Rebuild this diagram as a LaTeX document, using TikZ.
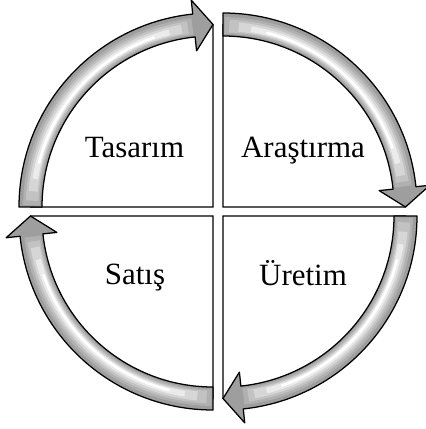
\documentclass[tikz,border=0pt]{standalone}
\usepackage{fontspec}
\setmainfont{Liberation Serif}
\begin{document}
\begin{tikzpicture}[scale=0.025,
	quarter/.style={draw=black, fill=white, line width=0.9pt},
	band/.style={draw=black, fill=black!38, line width=0.9pt, line join=round},
	glow/.style={line cap=butt},
	word/.style={font=\fontsize{22}{26}\selectfont, anchor=base}]
	\useasboundingbox (-218,-217.5) rectangle (207,211.5);
	% one quarter with its curved arrow: corner (\cx,\cy), tail at angle \a
	\foreach \cx/\cy/\a in {-5/4.5/180, 5/4.5/90, 5/-4.5/0, -5/-4.5/-90} {
		\begin{scope}[shift={(\cx,\cy)}]
		\pgfmathsetmacro\tip{\a-90}
		\pgfmathsetmacro\neck{\a-84}
		\draw[quarter] (0,0) -- (\a:182.5) arc[start angle=\a, end angle=\tip, radius=182.5] -- cycle;
		\draw[band] (\a:194) arc[start angle=\a, end angle=\neck, radius=194] -- (\neck:208) -- (\tip:182.5) -- (\neck:157) -- (\neck:171) arc[start angle=\neck, end angle=\a, radius=171] -- cycle;
		\draw[glow, black!31, line width=12pt] (\a-0.5:181.5) arc[start angle=\a-0.5, end angle=\neck+0.5, radius=181.5];
		\draw[glow, black!24, line width=9pt] (\a-2:181) arc[start angle=\a-2, end angle=\neck+2, radius=181];
		\draw[glow, black!16, line width=6.5pt] (\a-5:180.5) arc[start angle=\a-5, end angle=\neck+4, radius=180.5];
		\draw[glow, black!8, line width=4pt] (\a-9:180) arc[start angle=\a-9, end angle=\neck+8, radius=180];
		\draw[glow, white, line width=1.8pt] (\a-14:179.5) arc[start angle=\a-14, end angle=\neck+13, radius=179.5];
		\end{scope}
	}
	\node[word] (tasarim) at (-83.5,53.5) {Tasarım};
	\node[word] (arastirma) at (85,53.5) {Araştırma};
	\node[word] (satis) at (-83,-72.5) {Satış};
	\node[word] (uretim) at (85,-73.5) {Üretim};
\end{tikzpicture}
\end{document}
